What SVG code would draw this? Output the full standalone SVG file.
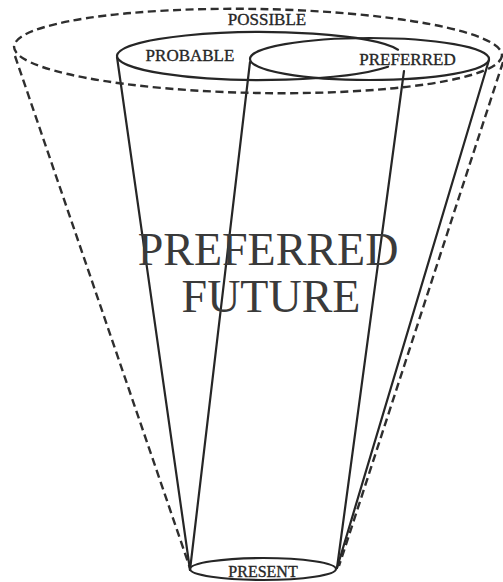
<svg xmlns="http://www.w3.org/2000/svg" width="503" height="582" viewBox="0 0 503 582">
<style>
.s{fill:none;stroke:#262626;stroke-width:2.2;stroke-linecap:round}
.d{fill:none;stroke:#2e2e2e;stroke-width:2.4;stroke-dasharray:8 4.5}
.t{font-family:"Liberation Serif","Times New Roman",serif;fill:#262626;stroke:#262626;stroke-width:0.35;text-anchor:middle}
.big{font-family:"Liberation Serif","Times New Roman",serif;fill:#3a3a3a;text-anchor:middle;font-size:46px}
</style>
<rect width="503" height="582" fill="#fff"/>
<g id="connectors">
<line class="d" x1="15" y1="56" x2="190" y2="568"/>
<line class="d" x1="503" y1="62" x2="339" y2="566"/>
<line class="s" x1="117" y1="57" x2="190" y2="570"/>
<line class="s" x1="250" y1="62" x2="190" y2="570"/>
<line class="s" x1="404" y1="71" x2="337" y2="568"/>
<line class="s" x1="489" y1="60" x2="337" y2="568"/>
</g>
<g id="possible">
<ellipse class="d" cx="258" cy="51" rx="244" ry="42" transform="rotate(1 258 51)"/>
<text class="t" x="267" y="25" font-size="17">POSSIBLE</text>
</g>
<g id="probable">
<path class="s" d="M398,49.7 A143,24 0 1 0 388,66.7"/>
<text class="t" x="190" y="61" font-size="17">PROBABLE</text>
</g>
<g id="preferred">
<ellipse class="s" cx="369.5" cy="59" rx="119.5" ry="21"/>
<text class="t" x="407.5" y="65" font-size="17">PREFERRED</text>
</g>
<g id="present">
<ellipse class="s" cx="263" cy="569" rx="73" ry="11"/>
<text class="t" x="263" y="577" font-size="16">PRESENT</text>
</g>
<g id="preferred-future">
<text class="big" x="268" y="265">PREFERRED</text>
<text class="big" x="271" y="312">FUTURE</text>
</g>
</svg>
